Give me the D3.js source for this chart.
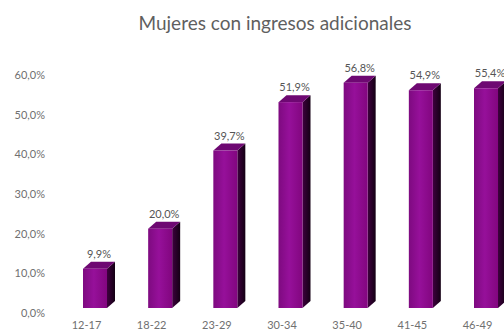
<!DOCTYPE html>
<html>
<head>
<meta charset="utf-8">
<script src="https://cdn.jsdelivr.net/npm/d3@7"></script>
<style>
  html, body { margin: 0; padding: 0; background: #fff; }
  svg { display: block; font-family: Lato, "Open Sans", sans-serif; }
</style>
</head>
<body>
<script>
// Age groups and share of women with additional income (%)
const categories = ["12-17", "18-22", "23-29", "30-34", "35-40", "41-45", "46-49"];
const values = [9.9, 20.0, 39.7, 51.9, 56.8, 54.9, 55.4];
const yTicks = [0, 10, 20, 30, 40, 50, 60];
const title = "Mujeres con ingresos adicionales";

const W = 504, H = 335;
const svg = d3.select("body").append("svg").attr("width", W).attr("height", H);

const fmt = v => d3.format(".1f")(v).replace(".", ",") + "%";

const x = d3.scalePoint().domain(categories).range([86, 477]);
const y = d3.scaleLinear().domain([0, 60]).range([308, 70]);

const frontW = 24, dx = 8, dy = 7;

// gradients for the bar faces
const defs = svg.append("defs");
const gFront = defs.append("linearGradient").attr("id", "front").attr("x1", 0).attr("x2", 1).attr("y1", 0).attr("y2", 0);
gFront.append("stop").attr("offset", 0).attr("stop-color", "#7e0a80");
gFront.append("stop").attr("offset", 0.45).attr("stop-color", "#96109a");
gFront.append("stop").attr("offset", 1).attr("stop-color", "#82067f");
const gSide = defs.append("linearGradient").attr("id", "side").attr("x1", 0).attr("x2", 1).attr("y1", 0).attr("y2", 0);
gSide.append("stop").attr("offset", 0).attr("stop-color", "#3e003e");
gSide.append("stop").attr("offset", 1).attr("stop-color", "#140014");

// title
svg.append("text")
  .attr("x", 275).attr("y", 30)
  .attr("text-anchor", "middle")
  .attr("font-size", 19)
  .attr("fill", "#5f5f5f")
  .text(title);

// y axis tick labels
const yAxis = d3.axisLeft(y).tickValues(yTicks).tickFormat(fmt).tickSize(0).tickPadding(0);
const ya = svg.append("g").attr("transform", "translate(45,5)").call(yAxis);
ya.select(".domain").remove();
ya.selectAll("text").attr("font-size", 11).attr("fill", "#707070").attr("font-family", "Lato, sans-serif");

// x axis category labels
const xAxis = d3.axisBottom(x).tickSize(0).tickPadding(0);
const xa = svg.append("g").attr("transform", "translate(0,321)").call(xAxis);
xa.select(".domain").remove();
xa.selectAll("text").attr("font-size", 11).attr("fill", "#707070").attr("font-family", "Lato, sans-serif");

// 3D columns
const bars = svg.append("g").selectAll("g").data(categories).join("g");
bars.each(function(c, i) {
  const g = d3.select(this);
  const x0 = x(c) - 3, x1 = x0 + frontW;
  const yt = y(values[i]), yb = y(0);
  // side face
  g.append("path")
    .attr("d", `M${x1},${yt}L${x1 + dx},${yt - dy}L${x1 + dx},${yb - dy}L${x1},${yb}Z`)
    .attr("fill", "url(#side)");
  // top face
  g.append("path")
    .attr("d", `M${x0},${yt}L${x0 + dx},${yt - dy}L${x1 + dx},${yt - dy}L${x1},${yt}Z`)
    .attr("fill", "#6e0872");
  // front face
  g.append("rect")
    .attr("x", x0).attr("y", yt)
    .attr("width", frontW).attr("height", yb - yt)
    .attr("fill", "url(#front)");
  // value label
  g.append("text")
    .attr("x", x0 + (frontW + dx) / 2).attr("y", yt - dy - 4)
    .attr("text-anchor", "middle")
    .attr("font-size", 11)
    .attr("fill", "#555555")
    .text(fmt(values[i]));
});
</script>
</body>
</html>
